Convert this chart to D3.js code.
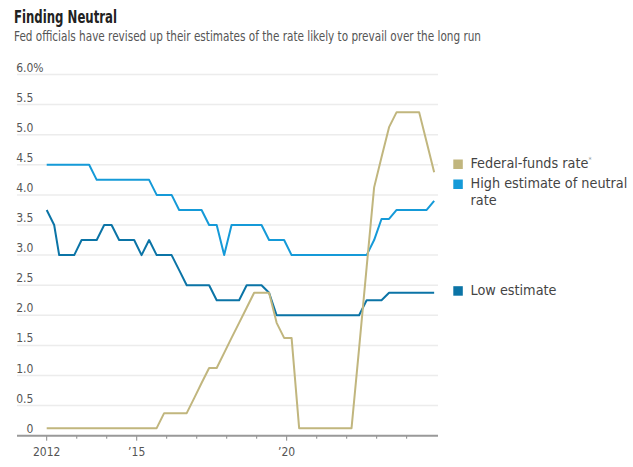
<!DOCTYPE html>
<html>
<head>
<meta charset="utf-8">
<script src="https://cdn.jsdelivr.net/npm/d3@7"></script>
<style>
  body { margin: 0; background: #fff; }
  svg text { font-family: "Liberation Sans Narrow", "DejaVu Sans Condensed", "Roboto", sans-serif; }
</style>
</head>
<body>
<div id="chart"></div>
<script>
// data (SEP meeting months)
var dates = ["2012-01","2012-04","2012-06","2012-09","2012-12",
  "2013-03","2013-06","2013-09","2013-12",
  "2014-03","2014-06","2014-09","2014-12",
  "2015-03","2015-06","2015-09","2015-12",
  "2016-03","2016-06","2016-09","2016-12",
  "2017-03","2017-06","2017-09","2017-12",
  "2018-03","2018-06","2018-09","2018-12",
  "2019-03","2019-06","2019-09","2019-12",
  "2020-03","2020-06","2020-09","2020-12",
  "2021-03","2021-06","2021-09","2021-12",
  "2022-03","2022-06","2022-09","2022-12",
  "2023-03","2023-06","2023-09","2023-12",
  "2024-03","2024-06","2024-09","2024-12"];

var fedFunds = [0.125,0.125,0.125,0.125,0.125,
  0.125,0.125,0.125,0.125,
  0.125,0.125,0.125,0.125,
  0.125,0.125,0.125,0.375,
  0.375,0.375,0.375,0.625,
  0.875,1.125,1.125,1.375,
  1.625,1.875,2.125,2.375,
  2.375,2.375,1.875,1.625,
  1.625,0.125,0.125,0.125,
  0.125,0.125,0.125,0.125,
  0.125,1.45,2.8,4.125,
  4.625,5.125,5.375,5.375,
  5.375,5.375,4.875,4.375];

var highEstimate = [4.5,4.5,4.5,4.5,4.5,
  4.5,4.5,4.25,4.25,
  4.25,4.25,4.25,4.25,
  4.25,4.25,4.0,4.0,
  4.0,3.75,3.75,3.75,
  3.75,3.5,3.5,3.0,
  3.5,3.5,3.5,3.5,
  3.5,3.25,3.25,3.25,
  3.0,3.0,3.0,3.0,
  3.0,3.0,3.0,3.0,
  3.0,3.0,3.0,3.25,
  3.6,3.6,3.75,3.75,
  3.75,3.75,3.75,3.9];

var lowEstimate = [3.75,3.5,3.0,3.0,3.0,
  3.25,3.25,3.25,3.5,
  3.5,3.25,3.25,3.25,
  3.0,3.25,3.0,3.0,
  3.0,2.75,2.5,2.5,
  2.5,2.5,2.25,2.25,
  2.25,2.25,2.5,2.5,
  2.5,2.375,2.0,2.0,
  2.0,2.0,2.0,2.0,
  2.0,2.0,2.0,2.0,
  2.0,2.0,2.25,2.25,
  2.25,2.375,2.375,2.375,
  2.375,2.375,2.375,2.375];

var yTicks = [0, 0.5, 1, 1.5, 2, 2.5, 3, 3.5, 4, 4.5, 5, 5.5, 6];
var xLabels = [["2012", "2012"], ["2015", "\u201915"], ["2020", "\u201920"]];

var seriesNames = ["Federal-funds rate", "High estimate of neutral rate", "Low estimate"];
var colors = ["#c1b67e", "#159ad8", "#0b74a6"];

// svg container
var svgWidth = 633;
var svgHeight = 467;

var svg = d3.select("#chart").append("svg")
  .attr("width", svgWidth)
  .attr("height", svgHeight);

var parseDate = d3.timeParse("%Y-%m");

var x = d3.scaleTime()
  .domain([new Date(2012, 0, 1), new Date(2025, 0, 1)])
  .range([46.7, 436.7]);

var y = d3.scaleLinear()
  .domain([0, 6])
  .range([435.7, 74.5]);

var gridLeft = 17, gridRight = 438;

// title (squeezed to the narrow width of the original face)
svg.append("text")
  .attr("x", 14).attr("y", 22.5)
  .attr("font-size", 17.5).attr("font-weight", "bold")
  .attr("fill", "#222")
  .attr("textLength", 103)
  .attr("lengthAdjust", "spacingAndGlyphs")
  .text("Finding Neutral");

svg.append("text")
  .attr("x", 14).attr("y", 40.7)
  .attr("font-size", 13.5)
  .attr("fill", "#555")
  .attr("textLength", 467)
  .attr("lengthAdjust", "spacingAndGlyphs")
  .text("Fed officials have revised up their estimates of the rate likely to prevail over the long run");

// gridlines
svg.append("g").selectAll("line")
  .data(yTicks.filter(d => d > 0))
  .enter().append("line")
  .attr("x1", gridLeft).attr("x2", gridRight)
  .attr("y1", d => y(d)).attr("y2", d => y(d))
  .attr("stroke", "#ececec")
  .attr("stroke-width", 1.5);

// y labels
svg.append("g").selectAll("text")
  .data(yTicks)
  .enter().append("text")
  .attr("x", 33.3)
  .attr("y", d => y(d) - 3)
  .attr("text-anchor", "end")
  .attr("font-size", 12)
  .attr("fill", "#555")
  .text(d => d === 0 ? "0" : d3.format(".1f")(d));

svg.append("text")
  .attr("x", 33.3).attr("y", y(6) - 3)
  .attr("font-size", 12).attr("fill", "#555")
  .text("%");

// x axis
var years = d3.range(2012, 2025);
svg.append("g").selectAll("line")
  .data(years)
  .enter().append("line")
  .attr("x1", d => x(new Date(d, 0, 1))).attr("x2", d => x(new Date(d, 0, 1)))
  .attr("y1", y(0))
  .attr("y2", d => (d === 2012 || d === 2015 || d === 2020) ? y(0) + 5 : y(0) + 3)
  .attr("stroke", "#888")
  .attr("stroke-width", 1);

svg.append("line")
  .attr("x1", gridLeft).attr("x2", gridRight)
  .attr("y1", y(0)).attr("y2", y(0))
  .attr("stroke", "#999")
  .attr("stroke-width", 2);

svg.append("g").selectAll("text")
  .data(xLabels)
  .enter().append("text")
  .attr("x", d => x(new Date(+d[0], 0, 1)))
  .attr("y", 456)
  .attr("text-anchor", "middle")
  .attr("font-size", 12)
  .attr("fill", "#555")
  .text(d => d[1]);

// lines
var rows = dates.map(function(d, i) {
  return { date: parseDate(d), fed: fedFunds[i], high: highEstimate[i], low: lowEstimate[i] };
});

var keys = ["low", "high", "fed"];
var keyColor = { fed: colors[0], high: colors[1], low: colors[2] };

keys.forEach(function(k) {
  var line = d3.line()
    .x(d => x(d.date))
    .y(d => y(d[k]));
  svg.append("path")
    .datum(rows)
    .attr("d", line)
    .attr("fill", "none")
    .attr("stroke", keyColor[k])
    .attr("stroke-width", 2)
    .attr("stroke-linejoin", "round");
});

// legend
var legendItems = [
  { name: seriesNames[0], color: colors[0], y: 159.5, lines: ["Federal-funds rate"], star: true },
  { name: seriesNames[1], color: colors[1], y: 179.5, lines: ["High estimate of neutral", "rate"] },
  { name: seriesNames[2], color: colors[2], y: 286.2, lines: ["Low estimate"] }
];

var leg = svg.append("g").selectAll("g")
  .data(legendItems)
  .enter().append("g");

leg.append("rect")
  .attr("x", 453.3).attr("y", d => d.y)
  .attr("width", 9.5).attr("height", 9.5)
  .attr("fill", d => d.color);

leg.each(function(d) {
  var t = d3.select(this).append("text")
    .attr("x", 470.5)
    .attr("y", d.y + 8.5)
    .attr("font-size", 14.3)
    .attr("fill", "#444");
  d.lines.forEach(function(l, i) {
    t.append("tspan")
      .attr("x", 470.5)
      .attr("dy", i === 0 ? 0 : 17)
      .text(l);
  });
  if (d.star) {
    t.append("tspan")
      .attr("dy", -6)
      .attr("font-size", 7)
      .attr("fill", "#999")
      .text("*");
  }
});
</script>
</body>
</html>
